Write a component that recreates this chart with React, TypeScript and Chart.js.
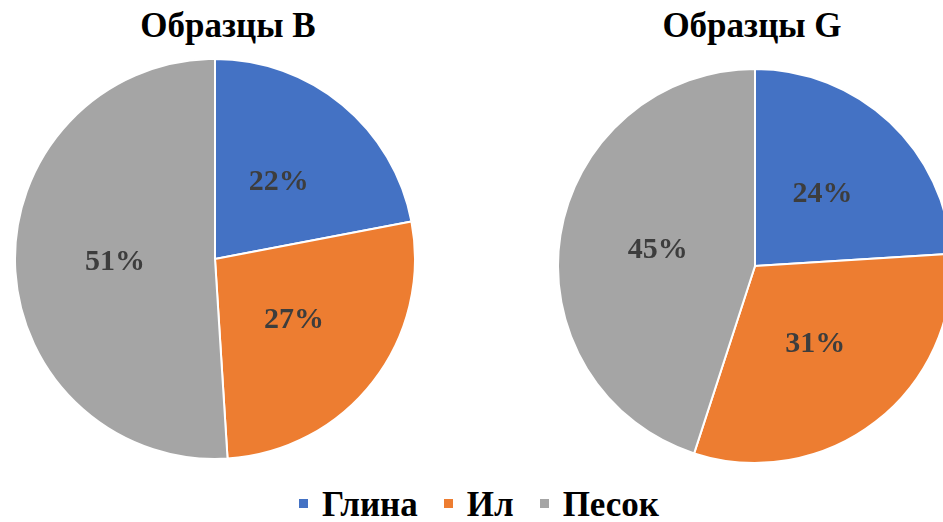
import React, { useEffect, useRef } from "react";
import { Chart, registerables } from "chart.js";

Chart.register(...registerables);

const categories = ["Глина", "Ил", "Песок"];
const colors = ["#4472C4", "#ED7D31", "#A5A5A5"];
const seriesB = [22, 27, 51];
const seriesG = [24, 31, 45];
const titleB = "Образцы B";
const titleG = "Образцы G";

const FAMILY = '"Liberation Serif", "Times New Roman", serif';

const labelPlugin = {
  id: "pctLabels",
  afterDatasetsDraw(chart: any) {
    const { ctx } = chart;
    const meta = chart.getDatasetMeta(0);
    const data = chart.data.datasets[0].data as number[];
    ctx.save();
    ctx.font = 'bold 30px "Liberation Serif"';
    ctx.fillStyle = "#3d3d3d";
    ctx.textAlign = "center";
    ctx.textBaseline = "middle";
    meta.data.forEach((arc: any, i: number) => {
      const p = arc.tooltipPosition();
      ctx.fillText(`${data[i]}%`, p.x, p.y);
    });
    ctx.restore();
  },
};

function PieCanvas({ values, left, top, size }: { values: number[]; left: number; top: number; size: number }) {
  const ref = useRef<HTMLCanvasElement | null>(null);
  useEffect(() => {
    if (!ref.current) return;
    const chart = new Chart(ref.current, {
      type: "pie",
      data: {
        labels: categories,
        datasets: [
          {
            data: values,
            backgroundColor: colors,
            borderColor: "#FFFFFF",
            borderWidth: 2,
          },
        ],
      },
      options: {
        responsive: false,
        animation: false,
        layout: { padding: 0 },
        plugins: {
          legend: { display: false },
          title: { display: false },
          tooltip: { enabled: false },
        },
      },
      plugins: [labelPlugin],
    });
    return () => chart.destroy();
  }, [values]);
  return (
    <canvas
      ref={ref}
      width={size}
      height={size}
      style={{ position: "absolute", left, top, width: size, height: size }}
    />
  );
}

function Title({ text, cx, top }: { text: string; cx: number; top: number }) {
  return (
    <div
      style={{
        position: "absolute",
        left: cx - 200,
        width: 400,
        top,
        textAlign: "center",
        fontFamily: FAMILY,
        fontWeight: "bold",
        fontSize: 35,
        lineHeight: "40px",
        color: "#000",
        whiteSpace: "nowrap",
      }}
    >
      {text}
    </div>
  );
}

export default function App() {
  return (
    <div
      style={{
        position: "fixed",
        left: 0,
        top: 0,
        width: 943,
        height: 522,
        overflow: "hidden",
        background: "#fff",
      }}
    >
      <Title text={titleB} cx={228} top={6} />
      <Title text={titleG} cx={752} top={6} />
      <PieCanvas values={seriesB} left={14} top={58} size={402} />
      <PieCanvas values={seriesG} left={557} top={68} size={396} />
      <div
        style={{
          position: "absolute",
          left: 0,
          width: 958,
          top: 485,
          display: "flex",
          justifyContent: "center",
          alignItems: "center",
          gap: 26,
          fontFamily: FAMILY,
          fontWeight: "bold",
          fontSize: 35,
          lineHeight: "40px",
          color: "#000",
          whiteSpace: "nowrap",
        }}
      >
        {categories.map((c, i) => (
          <div key={c} style={{ display: "flex", alignItems: "center", gap: 14 }}>
            <span
              style={{
                display: "inline-block",
                width: 9,
                height: 9,
                background: colors[i],
                position: "relative",
                top: -2,
              }}
            />
            <span>{c}</span>
          </div>
        ))}
      </div>
    </div>
  );
}
